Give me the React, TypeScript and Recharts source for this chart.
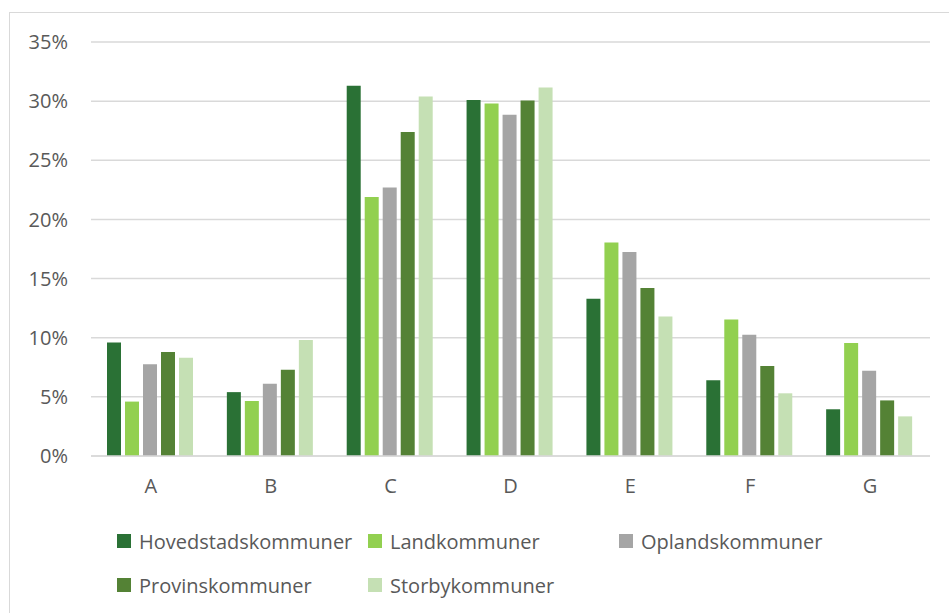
import React from 'react';
import { BarChart, Bar, XAxis, YAxis, CartesianGrid, Legend } from 'recharts';

const categories = ['A', 'B', 'C', 'D', 'E', 'F', 'G'];
const hovedstad = [9.6, 5.4, 31.3, 30.1, 13.3, 6.4, 3.95];
const land = [4.6, 4.65, 21.9, 29.8, 18.05, 11.55, 9.55];
const opland = [7.75, 6.1, 22.7, 28.85, 17.25, 10.25, 7.2];
const provins = [8.8, 7.3, 27.4, 30.05, 14.2, 7.6, 4.7];
const storby = [8.3, 9.8, 30.4, 31.15, 11.8, 5.3, 3.35];
const yTicks = [0, 5, 10, 15, 20, 25, 30, 35];

const seriesNames = ['Hovedstadskommuner', 'Landkommuner', 'Oplandskommuner', 'Provinskommuner', 'Storbykommuner'];
const seriesValues = [hovedstad, land, opland, provins, storby];
const seriesColors = ['#2A7135', '#92D050', '#A5A5A5', '#548235', '#C5E0B4'];

const data = categories.map((c, i) => {
  const row: Record<string, string | number> = { name: c };
  seriesNames.forEach((s, j) => {
    row[s] = seriesValues[j][i];
  });
  return row;
});

const FONT = '"Open Sans", sans-serif';
const TEXT = '#595959';

const LegendContent = () => (
  <div style={{ display: 'flex', flexWrap: 'wrap', paddingLeft: 117, width: 949, boxSizing: 'border-box' }}>
    {seriesNames.map((s, i) => (
      <div key={s} style={{ width: 251, height: 44, display: 'flex', alignItems: 'center' }}>
        <div style={{ width: 14, height: 14, background: seriesColors[i], marginRight: 8 }} />
        <span style={{ fontFamily: FONT, fontSize: 20, color: TEXT, whiteSpace: 'nowrap' }}>{s}</span>
      </div>
    ))}
  </div>
);

export default function App() {
  return (
    <div style={{ position: 'fixed', left: 0, top: 0, width: 949, height: 613, overflow: 'hidden', background: '#fff' }}>
      <div style={{ position: 'absolute', left: 9, top: 12, width: 1000, height: 700, border: '1.5px solid #d9d9d9', boxSizing: 'border-box' }} />
      <div style={{ position: 'absolute', left: 0, top: 0 }}>
        <BarChart
          width={949}
          height={613}
          data={data}
          margin={{ top: 42, right: 19, left: 0, bottom: 37 }}
          barCategoryGap={16}
          barGap={4}
        >
          <CartesianGrid vertical={false} stroke="#d9d9d9" strokeWidth={1.5} />
          <XAxis
            dataKey="name"
            axisLine={{ stroke: '#d9d9d9', strokeWidth: 1.5 }}
            tickLine={false}
            tickSize={0}
            tickMargin={23}
            height={30}
            tick={{ fill: TEXT, fontFamily: FONT, fontSize: 20 }}
          />
          <YAxis
            width={91}
            domain={[0, 35]}
            ticks={yTicks}
            axisLine={false}
            tickLine={false}
            tickSize={0}
            tickMargin={23}
            tickFormatter={(v: number) => `${v}%`}
            tick={{ fill: TEXT, fontFamily: FONT, fontSize: 20 }}
          />
          <Legend
            content={LegendContent}
            verticalAlign="bottom"
            wrapperStyle={{ position: 'absolute', left: 0, top: 519, bottom: 'auto', height: 90, width: 949 }}
          />
          {seriesNames.map((s, i) => (
            <Bar key={s} dataKey={s} fill={seriesColors[i]} isAnimationActive={false} />
          ))}
        </BarChart>
      </div>
    </div>
  );
}
